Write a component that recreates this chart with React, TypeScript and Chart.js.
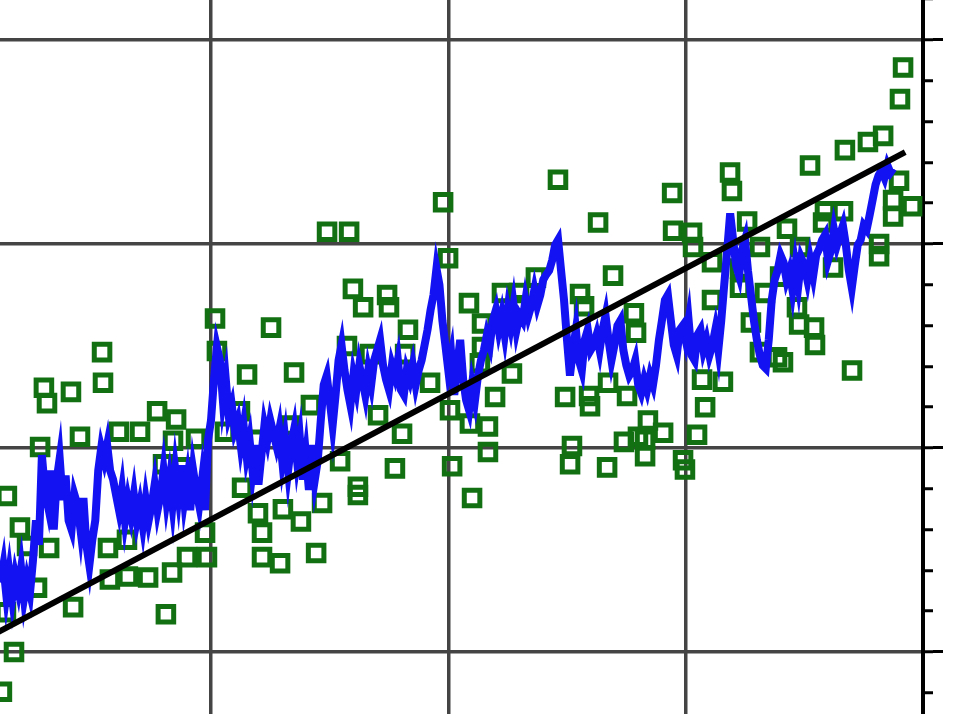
import { useEffect, useRef } from "react";
import { Chart, registerables } from "chart.js";

Chart.register(...registerables);

// Axis ranges (years on x, anomaly-like units on y)
const X_MIN = 1971.11;
const X_MAX = 2010;
const Y_MIN = -0.0608;
const Y_MAX = 0.6392;

// Tick positions (no labels are visible in the reference)
const X_GRID_TICKS = [1980, 1990, 2000, 2010];
const Y_MAJOR_TICKS = [0, 0.2, 0.4, 0.6];
const Y_MINOR_TICKS = [
  -0.04, 0, 0.04, 0.08, 0.12, 0.16, 0.2, 0.24, 0.28, 0.32, 0.36, 0.4, 0.44,
  0.48, 0.52, 0.56, 0.6, 0.64,
];

// Linear trend line (two end points)
const TREND_X = [1971.0, 2009.25];
const TREND_Y = [0.019, 0.49];

// Blue series: sampled every 1/8 year from BLUE_START
const BLUE_START = 1971.125;
const BLUE_STEP = 0.125;
const BLUE_Y = [
  0.068, 0.085, 0.056, 0.078, 0.053, 0.075, 0.061, 0.082, 0.053, 0.071, 0.058, 0.09,
  0.129, 0.105, 0.193, 0.159,
  0.144, 0.178, 0.12, 0.169, 0.19, 0.149, 0.173, 0.129, 0.12, 0.154,
  0.144, 0.12, 0.151, 0.105, 0.085, 0.11, 0.129, 0.178,
  0.2, 0.188, 0.203, 0.178, 0.169,
  0.154, 0.139, 0.159, 0.129, 0.149, 0.134, 0.154, 0.129, 0.144, 0.124, 0.149, 0.129, 0.144, 0.164, 0.139,
  0.154, 0.178, 0.149, 0.169, 0.144, 0.178, 0.154, 0.183, 0.149, 0.169, 0.139, 0.178, 0.159, 0.144, 0.169, 0.139, 0.208,
  0.227, 0.267, 0.299, 0.286, 0.247, 0.267, 0.232, 0.242,
  0.218, 0.227, 0.203, 0.222, 0.193, 0.208, 0.178, 0.203, 0.164, 0.193, 0.222, 0.208, 0.227, 0.215, 0.203, 0.218,
  0.188, 0.208, 0.178, 0.203, 0.218, 0.188, 0.208, 0.169, 0.193, 0.159, 0.203, 0.169, 0.188,
  0.227, 0.262, 0.271, 0.247, 0.222, 0.252, 0.286, 0.301, 0.276, 0.257, 0.242, 0.271, 0.257, 0.281, 0.267,
  0.252, 0.276, 0.262, 0.286, 0.296, 0.306, 0.281, 0.267, 0.257, 0.281, 0.271, 0.286, 0.257, 0.252, 0.276,
  0.267, 0.281, 0.262, 0.276, 0.286, 0.301, 0.316, 0.335, 0.35, 0.376, 0.36, 0.325, 0.301,
  0.276, 0.291, 0.252, 0.281, 0.306, 0.267, 0.247, 0.237, 0.262, 0.247, 0.271,
  0.286, 0.296, 0.311, 0.301, 0.325, 0.335, 0.316, 0.33, 0.311, 0.335, 0.32, 0.34, 0.316, 0.33, 0.325, 0.345,
  0.33, 0.34, 0.355, 0.34, 0.35, 0.365, 0.37, 0.374, 0.384, 0.399, 0.404,
  0.374, 0.345, 0.306, 0.271, 0.296, 0.316, 0.286, 0.276, 0.306, 0.316, 0.296, 0.301, 0.311, 0.296, 0.316,
  0.33, 0.306, 0.286, 0.301, 0.32, 0.325, 0.296, 0.281, 0.271, 0.276, 0.286,
  0.262, 0.254, 0.267, 0.257, 0.271, 0.262, 0.281, 0.306, 0.325, 0.345, 0.35, 0.325, 0.301, 0.291, 0.316,
  0.32, 0.306, 0.325, 0.291, 0.286, 0.311, 0.316, 0.296, 0.306, 0.291, 0.301, 0.316, 0.296, 0.325, 0.36,
  0.394, 0.43,
  0.404, 0.379, 0.369, 0.394, 0.404, 0.374, 0.35, 0.325, 0.306, 0.291, 0.281, 0.278, 0.306, 0.345, 0.365,
  0.374, 0.389, 0.382,
  0.365, 0.374, 0.355, 0.379, 0.36, 0.386, 0.379, 0.365, 0.384, 0.369, 0.389, 0.395, 0.404, 0.409, 0.384,
  0.394, 0.414, 0.399, 0.409, 0.418, 0.399, 0.374, 0.357, 0.379, 0.399, 0.404, 0.418, 0.414, 0.428, 0.443,
  0.458, 0.467, 0.472, 0.465, 0.477, 0.47, 0.474,
];

// Green scattered squares
const GREEN_X = [
  1971.19, 1971.7, 1971.4, 1971.95, 1972.25, 1972.67, 1974.19, 1971.36, 1972.96, 1973.09,
  1974.1, 1975.41, 1975.45, 1974.48, 1972.8, 1976.12, 1977.01, 1977.73, 1978.53, 1978.4,
  1979.37, 1977.98, 1978.82, 1973.18, 1975.66, 1976.46, 1975.74, 1976.5, 1977.35, 1978.36,
  1978.99, 1979.83, 1979.75, 1978.1, 1980.17, 1980.25, 1982.53, 1981.52, 1983.5, 1984.21,
  1981.31, 1981.98, 1982.15, 1982.15, 1982.91, 1983.03, 1983.79, 1984.43, 1980.59, 1981.22,
  1984.89, 1985.82, 1989.78, 1989.99, 1985.98, 1986.41, 1987.42, 1987.5, 1988.3, 1990.87,
  1985.73, 1986.7, 1988.18, 1989.23, 1987.04, 1988.05, 1987.75, 1986.19, 1986.19, 1984.68,
  1990.16, 1991.0, 1990.07, 1985.44, 1994.62, 1996.31, 1996.94, 1992.26, 1992.98, 1993.69,
  1995.55, 1995.72, 1991.42, 1991.42, 1992.68, 1991.97, 1994.92, 1995.93, 1995.97, 1996.73,
  1997.53, 1991.67, 1991.67, 1995.21, 1995.13, 1996.69, 1997.4, 1997.99, 1997.82, 1997.91,
  2001.87, 2001.95, 1999.43, 1999.47, 2000.27, 2000.31, 2002.59, 2001.11, 2001.11, 2002.29,
  2002.29, 2003.34, 2002.75, 2003.13, 2003.85, 2000.69, 2001.57, 2000.82, 1998.41, 1999.05,
  1998.29, 1998.29, 1999.89, 1999.97, 2000.48, 2009.16, 2009.03, 2008.32, 2007.68, 2006.71,
  2005.24, 2008.99, 2008.74, 2009.54, 2008.74, 2006.63, 2005.87, 2004.27, 2004.82, 2008.15,
  2008.15, 2006.21, 2003.98, 2004.69, 2004.78, 2005.41, 2005.45, 2004.1, 2007.01, 2005.79,
  2003.13, 1990.91, 1981.85, 1983.33, 1992.89, 1991.33,
];
const GREEN_Y = [
  -0.039, 0.0, 0.153, 0.122, 0.104, 0.063, 0.044, 0.039, 0.259, 0.244,
  0.255, 0.294, 0.264, 0.211, 0.201, 0.216, 0.216, 0.236, 0.228, 0.207,
  0.209, 0.184, 0.181, 0.102, 0.102, 0.11, 0.071, 0.074, 0.073, 0.078,
  0.093, 0.093, 0.117, 0.037, 0.327, 0.295, 0.318, 0.272, 0.274, 0.242,
  0.161, 0.136, 0.117, 0.093, 0.087, 0.14, 0.128, 0.097, 0.216, 0.236,
  0.412, 0.412, 0.441, 0.386, 0.356, 0.338, 0.35, 0.338, 0.316, 0.342,
  0.3, 0.292, 0.292, 0.264, 0.232, 0.214, 0.18, 0.162, 0.154, 0.146,
  0.182, 0.151, 0.237, 0.187, 0.463, 0.421, 0.369, 0.352, 0.352, 0.367,
  0.351, 0.339, 0.322, 0.299, 0.273, 0.25, 0.25, 0.251, 0.241, 0.264,
  0.251, 0.221, 0.196, 0.202, 0.184, 0.181, 0.206, 0.211, 0.332, 0.313,
  0.47, 0.452, 0.45, 0.413, 0.411, 0.397, 0.422, 0.382, 0.345, 0.376,
  0.357, 0.352, 0.323, 0.294, 0.289, 0.267, 0.265, 0.24, 0.227, 0.215,
  0.208, 0.192, 0.188, 0.179, 0.213, 0.573, 0.542, 0.506, 0.5, 0.492,
  0.477, 0.462, 0.443, 0.437, 0.427, 0.432, 0.432, 0.415, 0.397, 0.4,
  0.388, 0.377, 0.368, 0.338, 0.321, 0.318, 0.301, 0.284, 0.276, 0.421,
  0.397, 0.224, 0.208, 0.222, 0.34, 0.283,
];

const GRID_COLOR = "#444444";
const GREEN = "rgb(18,112,18)";
const BLUE = "#1212f2";

const isMajor = (v: number) => Y_MAJOR_TICKS.some((m) => Math.abs(m - v) < 1e-6);

export default function App() {
  const canvasRef = useRef<HTMLCanvasElement | null>(null);

  useEffect(() => {
    const canvas = canvasRef.current;
    if (!canvas) return;

    const trendData = TREND_X.map((x, i) => ({ x, y: TREND_Y[i] }));
    const blueData = BLUE_Y.map((y, i) => ({ x: BLUE_START + i * BLUE_STEP, y }));
    const greenData = GREEN_X.map((x, i) => ({ x, y: GREEN_Y[i] }));

    const chart = new Chart(canvas, {
      type: "scatter",
      data: {
        datasets: [
          {
            label: "trend",
            data: trendData,
            showLine: true,
            borderColor: "#000000",
            borderWidth: 6,
            pointRadius: 0,
            borderCapStyle: "butt",
          },
          {
            label: "series",
            data: blueData,
            showLine: true,
            borderColor: BLUE,
            borderWidth: 8,
            pointRadius: 0,
            borderJoinStyle: "miter",
            tension: 0,
          },
          {
            label: "points",
            data: greenData,
            showLine: false,
            pointStyle: "rect",
            pointRadius: 11,
            borderWidth: 5,
            pointBorderColor: GREEN,
            pointBackgroundColor: "rgba(0,0,0,0)",
            borderColor: GREEN,
            backgroundColor: "rgba(0,0,0,0)",
          },
        ],
      },
      options: {
        animation: false,
        responsive: false,
        events: [],
        layout: { autoPadding: false, padding: { left: 0, top: 0, bottom: 0, right: 17 } },
        plugins: {
          legend: { display: false },
          tooltip: { enabled: false },
          title: { display: false },
        },
        scales: {
          x: {
            type: "linear",
            position: "bottom",
            min: X_MIN,
            max: X_MAX,
            afterBuildTicks: (scale: any) => {
              scale.ticks = X_GRID_TICKS.map((value) => ({ value }));
            },
            ticks: { display: false },
            border: { display: false },
            grid: {
              color: GRID_COLOR,
              lineWidth: 3.5,
              drawTicks: false,
            },
          },
          y: {
            type: "linear",
            position: "right",
            min: Y_MIN,
            max: Y_MAX,
            afterBuildTicks: (scale: any) => {
              scale.ticks = Y_MINOR_TICKS.map((value) => ({ value }));
            },
            ticks: { display: false },
            border: { display: true, color: "#000000", width: 4 },
            grid: {
              color: (ctx: any) =>
                ctx.tick && isMajor(ctx.tick.value) ? GRID_COLOR : "rgba(0,0,0,0)",
              lineWidth: 3.5,
              drawTicks: true,
              tickLength: 10,
              tickColor: "#000000",
              tickWidth: 3,
            },
          },
          y2: {
            type: "linear",
            position: "right",
            min: Y_MIN,
            max: Y_MAX,
            afterBuildTicks: (scale: any) => {
              scale.ticks = Y_MAJOR_TICKS.map((value) => ({ value }));
            },
            ticks: { display: false },
            border: { display: false },
            grid: {
              drawOnChartArea: false,
              drawTicks: true,
              tickLength: 10,
              tickColor: "#000000",
              tickWidth: 3,
              color: "#000000",
            },
          },
        },
      },
    });

    return () => {
      chart.destroy();
    };
  }, []);

  return (
    <div
      style={{
        position: "fixed",
        left: 0,
        top: 0,
        width: 960,
        height: 714,
        background: "#ffffff",
      }}
    >
      <canvas ref={canvasRef} width={960} height={714} style={{ display: "block" }} />
    </div>
  );
}
